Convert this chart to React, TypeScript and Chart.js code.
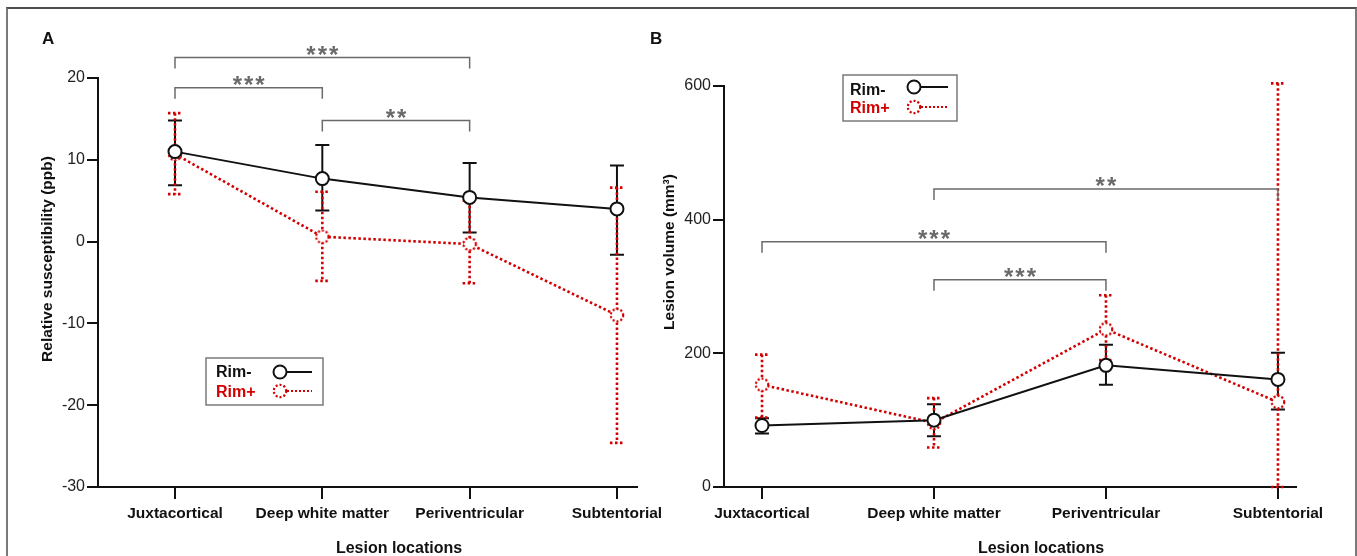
import React, { useEffect, useRef } from 'react';
import { Chart, registerables } from 'chart.js';

Chart.register(...registerables);

// ---------------- data ----------------
const categories = ['Juxtacortical', 'Deep white matter', 'Periventricular', 'Subtentorial'];

// Panel A: relative susceptibility (ppb)
const suscRimNeg = [11.0, 7.7, 5.4, 4.0];
const suscRimNegUpper = [14.8, 11.8, 9.6, 9.3];
const suscRimNegLower = [6.9, 3.8, 1.1, -1.6];
const suscRimPos = [10.7, 0.6, -0.3, -9.0];
const suscRimPosUpper = [15.7, 6.1, 5.0, 6.6];
const suscRimPosLower = [5.8, -4.8, -5.1, -24.6];
const suscTicks = [-30, -20, -10, 0, 10, 20];

// Panel B: lesion volume (mm³)
const volRimNeg = [92, 100, 182, 161];
const volRimNegUpper = [103, 124, 213, 201];
const volRimNegLower = [80, 76, 153, 116];
const volRimPos = [153, 96, 236, 127];
const volRimPosUpper = [198, 133, 287, 604];
const volRimPosLower = [104, 59, 190, 0];
const volTicks = [0, 200, 400, 600];

// significance brackets: category indices and level in data units
const suscBracketFrom = [0, 0, 1];
const suscBracketTo = [2, 1, 2];
const suscBracketLevel = [22.5, 18.8, 14.8];
const suscBracketLabel = ['***', '***', '**'];

const volBracketFrom = [1, 0, 1];
const volBracketTo = [3, 2, 2];
const volBracketLevel = [446, 367, 310];
const volBracketLabel = ['**', '***', '***'];

const legendLabels = ['Rim-', 'Rim+'];

// ---------------- styles ----------------
const RED = '#d20000';
const BLACK = '#111111';
const GREY = '#6a6a6a';
const FONT = "'Liberation Sans', Arial, Helvetica, sans-serif";

type Series = { values: number[]; upper: number[]; lower: number[] };

interface PanelCfg {
  canvasLeft: number;
  canvasWidth: number;
  padding: { left: number; right: number; top: number; bottom: number };
  xMin: number;
  xMax: number;
  yMin: number;
  yMax: number;
  yTicks: number[];
  neg: Series;
  pos: Series;
  bFrom: number[];
  bTo: number[];
  bLevel: number[];
  bLabel: string[];
  letter: string;
  letterX: number;
  letterY: number;
  yTitle: string;
  yTitleX: number;
  yTitleY: number;
  xTitle: string;
  xTitleX: number;
  xTitleY: number;
  legendBox: [number, number, number, number];
  legendTextX: number;
  legendBaselines: [number, number];
  legendMarkX: number;
  legendMarkY: [number, number];
  legendLineEnd: number;
}

function makeDottedCircle(): HTMLCanvasElement {
  const c = document.createElement('canvas');
  c.width = 18;
  c.height = 18;
  const ctx = c.getContext('2d')!;
  ctx.beginPath();
  ctx.arc(9, 9, 6.2, 0, Math.PI * 2);
  ctx.fillStyle = '#ffffff';
  ctx.fill();
  ctx.setLineDash([2, 2]);
  ctx.lineWidth = 2.2;
  ctx.strokeStyle = RED;
  ctx.stroke();
  return c;
}

function Panel({ cfg }: { cfg: PanelCfg }) {
  const ref = useRef<HTMLCanvasElement>(null);

  useEffect(() => {
    const canvas = ref.current!;
    const dotted = makeDottedCircle();
    const off = cfg.canvasLeft;

    const errorBars = {
      id: 'errorBars',
      beforeDatasetsDraw(chart: any) {
        const { ctx } = chart;
        const x = chart.scales.x;
        const y = chart.scales.y;
        const drawSeries = (s: Series, color: string, dash: number[], width: number) => {
          ctx.save();
          ctx.strokeStyle = color;
          ctx.lineWidth = width;
          ctx.setLineDash(dash);
          s.values.forEach((_, i) => {
            const px = x.getPixelForValue(i);
            const top = y.getPixelForValue(s.upper[i]);
            const bot = y.getPixelForValue(s.lower[i]);
            ctx.beginPath();
            ctx.moveTo(px, top);
            ctx.lineTo(px, bot);
            ctx.stroke();
            ctx.beginPath();
            ctx.moveTo(px - 7, top);
            ctx.lineTo(px + 7, top);
            ctx.moveTo(px - 7, bot);
            ctx.lineTo(px + 7, bot);
            ctx.stroke();
          });
          ctx.restore();
        };
        drawSeries(cfg.neg, BLACK, [], 2);
        drawSeries(cfg.pos, RED, [2.5, 2.5], 2.6);
      },
    };

    const annotations = {
      id: 'annotations',
      afterDraw(chart: any) {
        const { ctx } = chart;
        const x = chart.scales.x;
        const y = chart.scales.y;
        ctx.save();

        // significance brackets
        cfg.bFrom.forEach((from, i) => {
          const x1 = x.getPixelForValue(from);
          const x2 = x.getPixelForValue(cfg.bTo[i]);
          const yl = y.getPixelForValue(cfg.bLevel[i]);
          ctx.strokeStyle = GREY;
          ctx.lineWidth = 1.5;
          ctx.setLineDash([]);
          ctx.beginPath();
          ctx.moveTo(x1, yl + 11);
          ctx.lineTo(x1, yl);
          ctx.lineTo(x2, yl);
          ctx.lineTo(x2, yl + 11);
          ctx.stroke();
          ctx.fillStyle = GREY;
          ctx.font = `bold 24px ${FONT}`;
          (ctx as any).letterSpacing = '2px';
          ctx.textAlign = 'center';
          ctx.textBaseline = 'alphabetic';
          ctx.fillText(cfg.bLabel[i], (x1 + x2) / 2 + 1, yl + 5);
          (ctx as any).letterSpacing = '0px';
        });

        // panel letter
        ctx.fillStyle = BLACK;
        ctx.font = `bold 17px ${FONT}`;
        ctx.textAlign = 'left';
        ctx.textBaseline = 'alphabetic';
        ctx.fillText(cfg.letter, cfg.letterX - off, cfg.letterY);

        // axis titles
        ctx.font = `bold 16px ${FONT}`;
        ctx.textAlign = 'center';
        ctx.fillText(cfg.xTitle, cfg.xTitleX - off, cfg.xTitleY);
        ctx.save();
        ctx.translate(cfg.yTitleX - off, cfg.yTitleY);
        ctx.rotate(-Math.PI / 2);
        ctx.textBaseline = 'middle';
        ctx.font = `bold 15.5px ${FONT}`;
        ctx.fillText(cfg.yTitle, 0, 0);
        ctx.restore();

        // legend
        const [bx1, by1, bx2, by2] = cfg.legendBox;
        ctx.strokeStyle = '#7a7a7a';
        ctx.lineWidth = 1.5;
        ctx.setLineDash([]);
        ctx.strokeRect(bx1 - off, by1, bx2 - bx1, by2 - by1);
        ctx.font = `bold 16px ${FONT}`;
        ctx.textAlign = 'left';
        ctx.textBaseline = 'alphabetic';
        ctx.fillStyle = BLACK;
        ctx.fillText(legendLabels[0], cfg.legendTextX - off, cfg.legendBaselines[0]);
        ctx.fillStyle = RED;
        ctx.fillText(legendLabels[1], cfg.legendTextX - off, cfg.legendBaselines[1]);
        const mx = cfg.legendMarkX - off;
        const le = cfg.legendLineEnd - off;
        // Rim- marker
        ctx.strokeStyle = BLACK;
        ctx.lineWidth = 2;
        ctx.beginPath();
        ctx.moveTo(mx + 6, cfg.legendMarkY[0]);
        ctx.lineTo(le, cfg.legendMarkY[0]);
        ctx.stroke();
        ctx.beginPath();
        ctx.arc(mx, cfg.legendMarkY[0], 6.5, 0, Math.PI * 2);
        ctx.fillStyle = '#fff';
        ctx.fill();
        ctx.stroke();
        // Rim+ marker
        ctx.strokeStyle = RED;
        ctx.lineWidth = 2.2;
        ctx.setLineDash([2, 2]);
        ctx.beginPath();
        ctx.moveTo(mx + 7, cfg.legendMarkY[1]);
        ctx.lineTo(le, cfg.legendMarkY[1]);
        ctx.stroke();
        ctx.setLineDash([]);
        ctx.drawImage(dotted, mx - 9, cfg.legendMarkY[1] - 9);

        ctx.restore();
      },
    };

    const toPts = (vals: number[]) => vals.map((v, i) => ({ x: i, y: v }));

    const chart = new Chart(canvas, {
      type: 'line',
      data: {
        datasets: [
          {
            label: legendLabels[0],
            data: toPts(cfg.neg.values),
            borderColor: BLACK,
            borderWidth: 2,
            pointRadius: 6.5,
            pointBorderWidth: 2,
            pointBackgroundColor: '#ffffff',
            pointBorderColor: BLACK,
            pointStyle: 'circle',
            fill: false,
            tension: 0,
          },
          {
            label: legendLabels[1],
            data: toPts(cfg.pos.values),
            borderColor: RED,
            borderWidth: 2.6,
            borderDash: [2.5, 2.5],
            pointRadius: 7,
            pointStyle: dotted as any,
            fill: false,
            tension: 0,
          },
        ],
      },
      options: {
        animation: false,
        responsive: false,
        devicePixelRatio: 1,
        events: [],
        layout: { padding: cfg.padding },
        plugins: { legend: { display: false }, tooltip: { enabled: false } },
        scales: {
          x: {
            type: 'linear',
            min: cfg.xMin,
            max: cfg.xMax,
            afterBuildTicks: (s: any) => {
              s.ticks = categories.map((_, i) => ({ value: i }));
            },
            afterFit: (s: any) => {
              s.height = 60;
            },
            ticks: {
              callback: (v: any) => categories[v as number] ?? '',
              font: { family: FONT, size: 15.5, weight: 'bold' },
              color: BLACK,
              padding: 5,
              autoSkip: false,
              maxRotation: 0,
              minRotation: 0,
            },
            grid: { drawOnChartArea: false, drawTicks: true, tickLength: 12, color: BLACK, lineWidth: 2 },
            border: { display: true, color: BLACK, width: 2 },
          },
          y: {
            type: 'linear',
            min: cfg.yMin,
            max: cfg.yMax,
            afterBuildTicks: (s: any) => {
              s.ticks = cfg.yTicks.map((v) => ({ value: v }));
            },
            afterFit: (s: any) => {
              s.width = 60;
            },
            ticks: {
              font: { family: FONT, size: 16 },
              color: '#222',
              padding: 2,
            },
            grid: { drawOnChartArea: false, drawTicks: true, tickLength: 11, color: BLACK, lineWidth: 2 },
            border: { display: true, color: BLACK, width: 2 },
          },
        },
      } as any,
      plugins: [errorBars, annotations],
    });
    return () => chart.destroy();
  }, [cfg]);

  return (
    <canvas
      ref={ref}
      width={cfg.canvasWidth}
      height={556}
      style={{ position: 'absolute', left: cfg.canvasLeft, top: 0, width: cfg.canvasWidth, height: 556 }}
    />
  );
}

const panelA: PanelCfg = {
  canvasLeft: 0,
  canvasWidth: 700,
  padding: { left: 38, right: 63, top: 78, bottom: 9 },
  xMin: -0.5226,
  xMax: 3.136,
  yMin: -30,
  yMax: 20,
  yTicks: suscTicks,
  neg: { values: suscRimNeg, upper: suscRimNegUpper, lower: suscRimNegLower },
  pos: { values: suscRimPos, upper: suscRimPosUpper, lower: suscRimPosLower },
  bFrom: suscBracketFrom,
  bTo: suscBracketTo,
  bLevel: suscBracketLevel,
  bLabel: suscBracketLabel,
  letter: 'A',
  letterX: 42,
  letterY: 44,
  yTitle: 'Relative susceptibility (ppb)',
  yTitleX: 48,
  yTitleY: 259,
  xTitle: 'Lesion locations',
  xTitleX: 399,
  xTitleY: 553,
  legendBox: [206, 358, 323, 405],
  legendTextX: 216,
  legendBaselines: [377, 397],
  legendMarkX: 280,
  legendMarkY: [372, 391],
  legendLineEnd: 312,
};

const panelB: PanelCfg = {
  canvasLeft: 640,
  canvasWidth: 717,
  padding: { left: 24, right: 61, top: 86, bottom: 9 },
  xMin: -0.221,
  xMax: 3.105,
  yMin: 0,
  yMax: 600,
  yTicks: volTicks,
  neg: { values: volRimNeg, upper: volRimNegUpper, lower: volRimNegLower },
  pos: { values: volRimPos, upper: volRimPosUpper, lower: volRimPosLower },
  bFrom: volBracketFrom,
  bTo: volBracketTo,
  bLevel: volBracketLevel,
  bLabel: volBracketLabel,
  letter: 'B',
  letterX: 650,
  letterY: 44,
  yTitle: 'Lesion volume (mm³)',
  yTitleX: 670,
  yTitleY: 252,
  xTitle: 'Lesion locations',
  xTitleX: 1041,
  xTitleY: 553,
  legendBox: [843, 75, 957, 121],
  legendTextX: 850,
  legendBaselines: [95, 113],
  legendMarkX: 914,
  legendMarkY: [87, 107],
  legendLineEnd: 948,
};

export default function App() {
  return (
    <div
      style={{
        position: 'absolute',
        left: 0,
        top: 0,
        width: 1357,
        height: 556,
        overflow: 'hidden',
        background: '#ffffff',
      }}
    >
      <div
        style={{
          position: 'absolute',
          left: 6,
          top: 7,
          width: 1351,
          height: 600,
          boxSizing: 'border-box',
          borderTop: '2px solid #4d4d4d',
          borderLeft: '2px solid #7a7a7a',
          borderRight: '2px solid #7a7a7a',
        }}
      />
      <Panel cfg={panelA} />
      <Panel cfg={panelB} />
    </div>
  );
}
